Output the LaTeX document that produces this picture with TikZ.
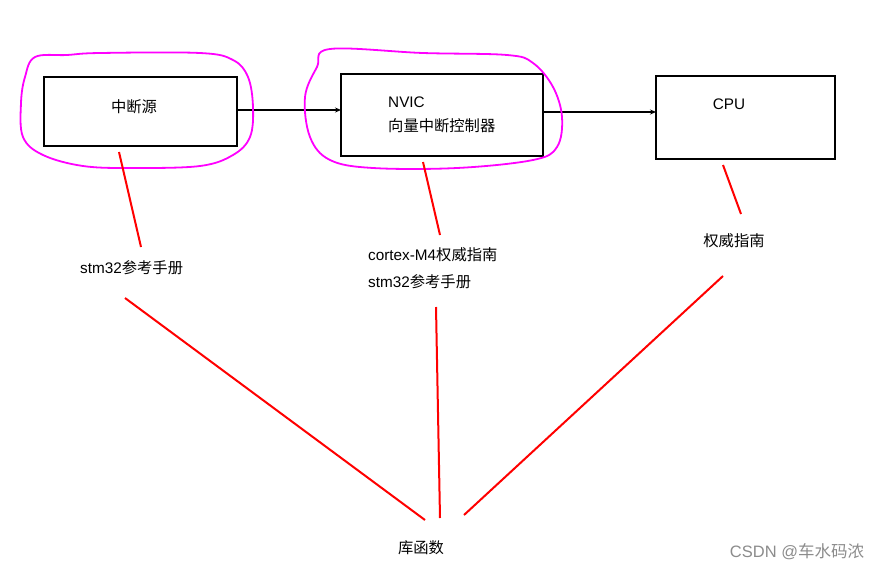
\documentclass[tikz,border=0pt]{standalone}
\usepackage{fontspec}
\setmainfont{Liberation Sans}
\newfontfamily\cjk{Noto Sans CJK SC}
\usetikzlibrary{arrows.meta}
\begin{document}
\begin{tikzpicture}[x=1pt,y=-1pt,
  blk/.style={draw=black,line width=2.2pt,minimum width=#1,inner sep=0pt},
  fs/.style={font=\fontsize{15.3}{18}\selectfont},
  lbl/.style={fs,inner sep=0pt,anchor=west},
  red/.style={draw=red,line width=2pt},
  loop/.style={draw={rgb,255:red,255;green,0;blue,255},line width=1.8pt},
  arr/.style={draw=black,line width=1.6pt,-{Stealth[length=6pt,width=5pt]}}]
\useasboundingbox (0,0) rectangle (881,571);
\fill[white] (0,0) rectangle (881,571);
% boxes
\node[blk=193pt,minimum height=69pt] (src) at (140.5,111.5) {};
\node[blk=202pt,minimum height=82pt] (nvic) at (442,115) {};
\node[blk=179pt,minimum height=83pt] (cpu) at (745.5,117.5) {};
\node[fs,inner sep=0pt] (t1) at (134,107) {\cjk 中断源};
\node[lbl] (t2a) at (388,102) {NVIC};
\node[lbl] (t2b) at (388,126) {\cjk 向量中断控制器};
\node[fs,inner sep=0pt] (t3) at (729,104) {CPU};
% arrows
\coordinate (a1) at (237,110);
\coordinate (a2) at (341,110);
\coordinate (b1) at (543,112);
\coordinate (b2) at (656,112);
\draw[arr] (a1) -- (a2);
\draw[arr] (b1) -- (b2);
% loops
\draw[loop] plot[smooth cycle,tension=0.6] coordinates {(35,57) (67,55) (100,53) (200,53) (233,60) (248,77) (253,107) (250,137) (233,155) (200,166) (133,168) (83,166) (43,155) (23,137) (21,103) (25,77)};
\draw[loop] plot[smooth cycle,tension=0.6] coordinates {(330,49) (423,53) (507,55) (533,63) (553,87) (562,117) (557,147) (533,160) (457,168) (373,168) (330,160) (310,137) (305,97) (317,67)};
% labels
\node[lbl] (m1) at (80,268) {stm32{\cjk 参考手册}};
\node[lbl] (m2a) at (368,255) {cortex-M4{\cjk 权威指南}};
\node[lbl] (m2b) at (368,282) {stm32{\cjk 参考手册}};
\node[fs,inner sep=0pt] (m3) at (734,241) {\cjk 权威指南};
\node[fs,inner sep=0pt] (lib) at (421,548) {\cjk 库函数};
\node[font=\fontsize{16.5}{19}\selectfont,text=black!45,inner sep=0pt] (wm) at (797,552) {CSDN @{\cjk 车水码浓}};
% red lines
\coordinate (r1a) at (119,152); \coordinate (r1b) at (141,247);
\coordinate (r2a) at (423,162); \coordinate (r2b) at (440,235);
\coordinate (r3a) at (723,165); \coordinate (r3b) at (741,214);
\coordinate (s1a) at (125,298); \coordinate (s1b) at (425,520);
\coordinate (s2a) at (436,307); \coordinate (s2b) at (440,518);
\coordinate (s3a) at (723,276); \coordinate (s3b) at (464,515);
\draw[red] (r1a) -- (r1b);
\draw[red] (r2a) -- (r2b);
\draw[red] (r3a) -- (r3b);
\draw[red] (s1a) -- (s1b);
\draw[red] (s2a) -- (s2b);
\draw[red] (s3a) -- (s3b);
\end{tikzpicture}
\end{document}
